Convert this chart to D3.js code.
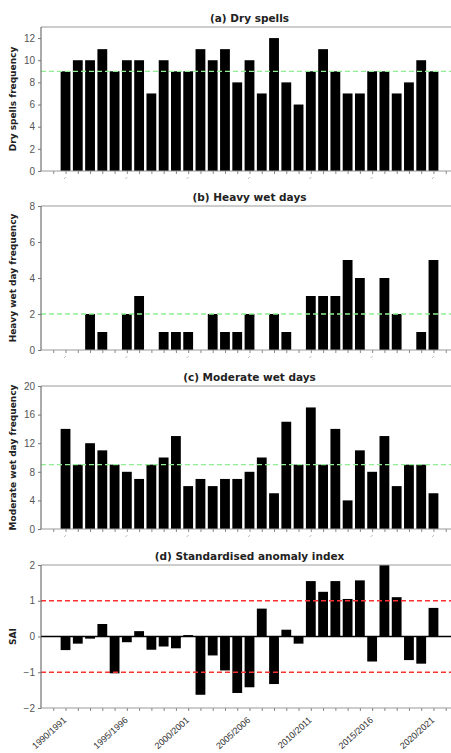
<!DOCTYPE html>
<html>
<head>
<meta charset="utf-8">
<script src="https://cdn.jsdelivr.net/npm/d3@7/dist/d3.min.js"></script>
<style>
  html, body { margin: 0; padding: 0; background: #fff; }
  svg { display: block; font-family: "DejaVu Sans", sans-serif; }
</style>
</head>
<body>
<svg id="chart" width="451" height="753"></svg>
<script>
// Seasons 1990/1991 .. 2020/2021
const seasons = d3.range(31).map(i => `${1990 + i}/${1991 + i}`);

// (a) dry spells per season
const drySpells = [9, 10, 10, 11, 9, 10, 10, 7, 10, 9, 9, 11, 10, 11, 8, 10, 7, 12, 8, 6, 9, 11, 9, 7, 7, 9, 9, 7, 8, 10, 9];
// (b) heavy wet days per season
const heavyWet = [0, 0, 2, 1, 0, 2, 3, 0, 1, 1, 1, 0, 2, 1, 1, 2, 0, 2, 1, 0, 3, 3, 3, 5, 4, 0, 4, 2, 0, 1, 5];
// (c) moderate wet days per season
const moderateWet = [14, 9, 12, 11, 9, 8, 7, 9, 10, 13, 6, 7, 6, 7, 7, 8, 10, 5, 15, 9, 17, 9, 14, 4, 11, 8, 13, 6, 9, 9, 5];
// (d) standardised anomaly index
const sai = [-0.38, -0.2, -0.06, 0.35, -1.03, -0.16, 0.15, -0.37, -0.28, -0.33, 0.04, -1.63, -0.53, -0.95, -1.58, -1.42, 0.78, -1.33, 0.19, -0.2, 1.55, 1.25, 1.55, 1.05, 1.57, -0.7, 2.0, 1.1, -0.66, -0.76, 0.8];

// Reference levels
const dryMean = 9, heavyMean = 2, moderateMean = 9;
const saiBands = [1, -1];

// Labelled seasons on the x axis
const majorIdx = [0, 5, 10, 15, 20, 25, 30];
const tickLabels = majorIdx.map(i => seasons[i]);

const svg = d3.select("#chart");
const x = d3.scaleLinear().domain([-2, 32]).range([41, 458]);
const barW = x(0.8) - x(0);

const panels = [
  { title: "(a) Dry spells", ylabel: "Dry spells frequency", values: drySpells,
    top: 27, bottom: 171, domain: [0, 13], ticks: [0, 2, 4, 6, 8, 10, 12],
    refs: [dryMean], refColor: "#90ee90", titleY: 22 },
  { title: "(b) Heavy wet days", ylabel: "Heavy wet day frequency", values: heavyWet,
    top: 206, bottom: 350, domain: [0, 8], ticks: [0, 2, 4, 6, 8],
    refs: [heavyMean], refColor: "#90ee90", titleY: 201 },
  { title: "(c) Moderate wet days", ylabel: "Moderate wet day frequency", values: moderateWet,
    top: 386, bottom: 529, domain: [0, 20], ticks: [0, 4, 8, 12, 16, 20],
    refs: [moderateMean], refColor: "#90ee90", titleY: 381 },
  { title: "(d) Standardised anomaly index", ylabel: "SAI", values: sai,
    top: 565, bottom: 708, domain: [-2, 2], ticks: [-2, -1, 0, 1, 2],
    refs: saiBands, refColor: "#ff3030", titleY: 560, zeroLine: true, labels: true }
];

panels.forEach((p, k) => {
  const y = d3.scaleLinear().domain(p.domain).range([p.bottom, p.top]);
  const g = svg.append("g");

  const clipId = "clip" + k;
  g.append("clipPath").attr("id", clipId)
    .append("rect").attr("x", x.range()[0]).attr("y", p.top)
    .attr("width", x.range()[1] - x.range()[0]).attr("height", p.bottom - p.top);

  // bars
  g.append("g").attr("clip-path", `url(#${clipId})`)
    .selectAll("rect").data(p.values).join("rect")
    .attr("x", (d, i) => x(i) - barW / 2)
    .attr("width", barW)
    .attr("y", d => y(Math.max(0, d)))
    .attr("height", d => Math.abs(y(d) - y(0)))
    .attr("fill", "#000");

  if (p.zeroLine) {
    g.append("line")
      .attr("x1", x.range()[0]).attr("x2", x.range()[1])
      .attr("y1", y(0)).attr("y2", y(0))
      .attr("stroke", "#000").attr("stroke-width", 1.3);
  }

  // reference lines
  g.selectAll("line.ref").data(p.refs).join("line")
    .attr("class", "ref")
    .attr("x1", x.range()[0]).attr("x2", x.range()[1])
    .attr("y1", d => y(d)).attr("y2", d => y(d))
    .attr("stroke", p.refColor)
    .attr("stroke-width", p.zeroLine ? 1.6 : 1.3)
    .attr("stroke-dasharray", "5,3");

  // spines
  const spine = "#9a9a9a";
  g.append("line").attr("x1", x.range()[0]).attr("x2", x.range()[1])
    .attr("y1", p.top).attr("y2", p.top).attr("stroke", spine).attr("stroke-width", 1);
  g.append("line").attr("x1", x.range()[0]).attr("x2", x.range()[1])
    .attr("y1", p.bottom).attr("y2", p.bottom).attr("stroke", spine).attr("stroke-width", 1);
  g.append("line").attr("x1", x.range()[0]).attr("x2", x.range()[0])
    .attr("y1", p.top).attr("y2", p.bottom).attr("stroke", "#555").attr("stroke-width", 1);

  // y axis
  const yAxis = d3.axisLeft(y).tickValues(p.ticks).tickSize(3).tickPadding(3)
    .tickFormat(d3.format("d"));
  const ya = g.append("g").attr("transform", `translate(${x.range()[0]},0)`).call(yAxis);
  ya.select(".domain").remove();
  ya.selectAll(".tick line").attr("stroke", "#777");
  ya.selectAll(".tick text").attr("fill", "#555").attr("font-size", 10);

  // x axis: a tick every season, labels every five
  const xAxis = d3.axisBottom(x).tickValues(d3.range(-1, 32)).tickSize(3)
    .tickFormat((d) => p.labels && majorIdx.includes(d) ? seasons[d] : "");
  const xa = g.append("g").attr("transform", `translate(0,${p.bottom})`).call(xAxis);
  xa.select(".domain").remove();
  xa.selectAll(".tick line").attr("stroke", "#888");
  if (p.labels) {
    xa.selectAll(".tick text")
      .attr("fill", "#333").attr("font-size", 9)
      .attr("text-anchor", "end")
      .attr("dy", 0).attr("y", 0)
      .attr("transform", "translate(1,13) rotate(-42)");
  } else {
    xa.selectAll(".tick text").remove();
    // small slanted marks under the labelled seasons
    g.selectAll("line.stub").data(majorIdx).join("line")
      .attr("class", "stub")
      .attr("x1", d => x(d) - 1.5).attr("x2", d => x(d) + 0.5)
      .attr("y1", p.bottom + 8).attr("y2", p.bottom + 6)
      .attr("stroke", "#aaa").attr("stroke-width", 0.8);
  }

  // title
  g.append("text")
    .attr("x", (x.range()[0] + x.range()[1]) / 2).attr("y", p.titleY)
    .attr("text-anchor", "middle").attr("font-weight", "bold").attr("font-size", 10.5)
    .attr("fill", "#222").text(p.title);

  // y label
  g.append("text")
    .attr("transform", `translate(16,${(p.top + p.bottom) / 2}) rotate(-90)`)
    .attr("text-anchor", "middle").attr("font-weight", "bold").attr("font-size", 9)
    .attr("fill", "#222").text(p.ylabel);
});
</script>
</body>
</html>
